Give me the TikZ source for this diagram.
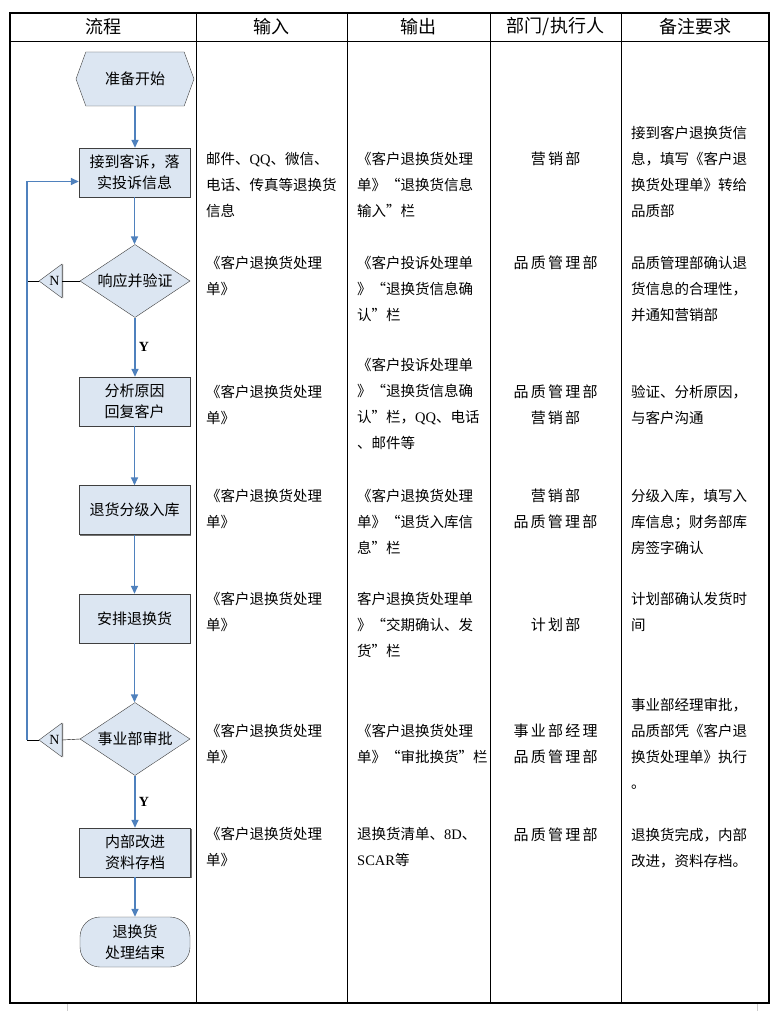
\documentclass[tikz,border=0pt]{standalone}
\usepackage{fontspec}
\setmainfont{Liberation Serif}
\newfontfamily\cjk{Noto Sans CJK SC}
\newfontfamily\cjkwide[LetterSpace=15]{Noto Sans CJK SC}
\usetikzlibrary{arrows.meta,shapes.geometric,shapes.symbols,shadows}
\newcommand\eng[1]{{\rmfamily #1}}

\definecolor{flowfill}{HTML}{DCE6F2}
\definecolor{flowline}{HTML}{4F81BD}
\definecolor{flowedge}{HTML}{3F3F3F}

\tikzset{
  flowshape/.style={draw=flowedge, fill=flowfill, align=center, inner sep=1pt,
    font=\cjk\fontsize{15}{21}\selectfont},
  stepbox/.style={flowshape, minimum width=111pt, minimum height=49pt,
    drop shadow={shadow xshift=1.2pt, shadow yshift=-1.2pt, fill=black!55, opacity=1}},
  decision/.style={flowshape, diamond, aspect=1.5, minimum width=110pt, minimum height=73pt},
  startshape/.style={flowshape, signal, signal to=west and east, signal pointer angle=140,
    minimum width=118pt, minimum height=54pt},
  endshape/.style={flowshape, rounded corners=20pt, minimum width=110pt, minimum height=50pt},
  nflag/.style={draw=flowedge, fill=flowfill, isosceles triangle, isosceles triangle stretches,
    shape border rotate=180, minimum width=34pt, minimum height=23pt, inner sep=0pt,
    font=\fontsize{14}{14}\selectfont,
    drop shadow={shadow xshift=1.2pt, shadow yshift=0pt, fill=black!55, opacity=1}},
  flow/.style={draw=flowline, line width=1.5pt, -{Triangle[length=8pt,width=7pt]}},
  yes/.style={right, inner sep=3pt, font=\bfseries\fontsize{14}{14}\selectfont},
  headtext/.style={font=\cjk\fontsize{18}{22}\selectfont},
  cell/.style={anchor=west, align=left, inner sep=0pt, font=\cjk\fontsize{14.5}{26}\selectfont},
  deptcell/.style={align=center, inner sep=0pt, font=\cjkwide\fontsize{15}{26}\selectfont}
}

\begin{document}
\begin{tikzpicture}[x=1pt,y=-1pt]
  \useasboundingbox[fill=white] (0,0) rectangle (780,1011);
  % Table
  \draw[line width=1.2pt] (10,13) rectangle (769,1003);
  \draw (10,41) -- (769,41);
  \foreach \x in {196,347,490,621} \draw (\x,13) -- (\x,1003);
  \foreach \x/\t/\n in {103/流程/hflow, 271.5/输入/hin, 418.5/输出/hout, 555.5/{部门/执行人}/hdep, 695/备注要求/hnote}
    \node[headtext] (\n) at (\x,27) {\t};
  \draw[gray!40] (67,1004) -- (67,1011); % page marks
  \draw[gray!40] (757,1004) -- (757,1011);

  % Flow
  \node[startshape] (start) at (135,79) {准备开始};
  \node[stepbox] (recv) at (134.5,172.5) {接到客诉，落\\实投诉信息};
  \node[decision] (check) at (135,281) {响应并验证};
  \node[stepbox] (analyse) at (134.5,401.5) {分析原因\\回复客户};
  \node[stepbox] (store) at (134.5,510) {退货分级入库};
  \node[stepbox] (ship) at (134.5,618.5) {安排退换货};
  \node[decision] (approve) at (135,739) {事业部审批};
  \node[stepbox] (archive) at (135,852.5) {内部改进\\资料存档};
  \node[endshape] (finish) at (135,942) {退换货\\处理结束};
  \node[nflag] (n1) at (54.5,281) {N};
  \node[nflag] (n2) at (54.5,740) {N};
  \coordinate (back) at (27,740);

  % Arrows
  \foreach \a/\b in {start/recv, recv/check, analyse/store, store/ship, ship/approve, archive/finish}
    \draw[flow] (\a.south) -- (\a.south |- \b.north);
  \draw[flow] (check.south) -- node[yes] {Y} (check.south |- analyse.north);
  \draw[flow] (approve.south) -- node[yes] {Y} (approve.south |- archive.north);

  % Return path
  \draw (check.west) -- (n1.lower side);
  \draw (n1.apex) -- (n1.apex -| back);
  \draw (approve.west) -- (n2.lower side);
  \draw (n2.apex) -- (back);
  \draw[flow] (back) |- ([yshift=-9pt]recv.west);

  % Input column
  \foreach \k/\y/\txt in {1/185/{邮件、\eng{QQ}、微信、\\电话、传真等退换货\\信息},
      2/276/{《客户退换货处理\\单》}, 3/405/{《客户退换货处理\\单》}, 4/509/{《客户退换货处理\\单》},
      5/612/{《客户退换货处理\\单》}, 6/744/{《客户退换货处理\\单》}, 7/847/{《客户退换货处理\\单》}}
    \node[cell] (in\k) at (206,\y) {\txt};
  % Output column
  \foreach \k/\y/\txt in {1/185/{《客户退换货处理\\单》“退换货信息\\输入”栏},
      2/289/{《客户投诉处理单\\》“退换货信息确\\认”栏},
      3/404/{《客户投诉处理单\\》“退换货信息确\\认”栏，\eng{QQ}、电话\\、邮件等},
      4/522/{《客户退换货处理\\单》“退货入库信\\息”栏},
      5/625/{客户退换货处理单\\》“交期确认、发\\货”栏},
      6/744/{《客户退换货处理\\单》“审批换货”栏},
      7/847/{退换货清单、\eng{8D}、\\\eng{SCAR}等}}
    \node[cell] (out\k) at (357,\y) {\txt};
  % Department column
  \foreach \k/\y/\txt in {1/159/营销部, 2/263/品质管理部, 3/405/{品质管理部\\营销部},
      4/509/{营销部\\品质管理部}, 5/625/计划部, 6/744/{事业部经理\\品质管理部}, 7/835/品质管理部}
    \node[deptcell] (dep\k) at (555.5,\y) {\txt};
  % Notes column
  \foreach \k/\y/\txt in {1/172/{接到客户退换货信\\息，填写《客户退\\换货处理单》转给\\品质部},
      2/289/{品质管理部确认退\\货信息的合理性，\\并通知营销部},
      3/405/{验证、分析原因，\\与客户沟通},
      4/522/{分级入库，填写入\\库信息；财务部库\\房签字确认},
      5/612/{计划部确认发货时\\间},
      6/744/{事业部经理审批，\\品质部凭《客户退\\换货处理单》执行\\。},
      7/848/{退换货完成，内部\\改进，资料存档。}}
    \node[cell] (note\k) at (631,\y) {\txt};
\end{tikzpicture}
\end{document}
